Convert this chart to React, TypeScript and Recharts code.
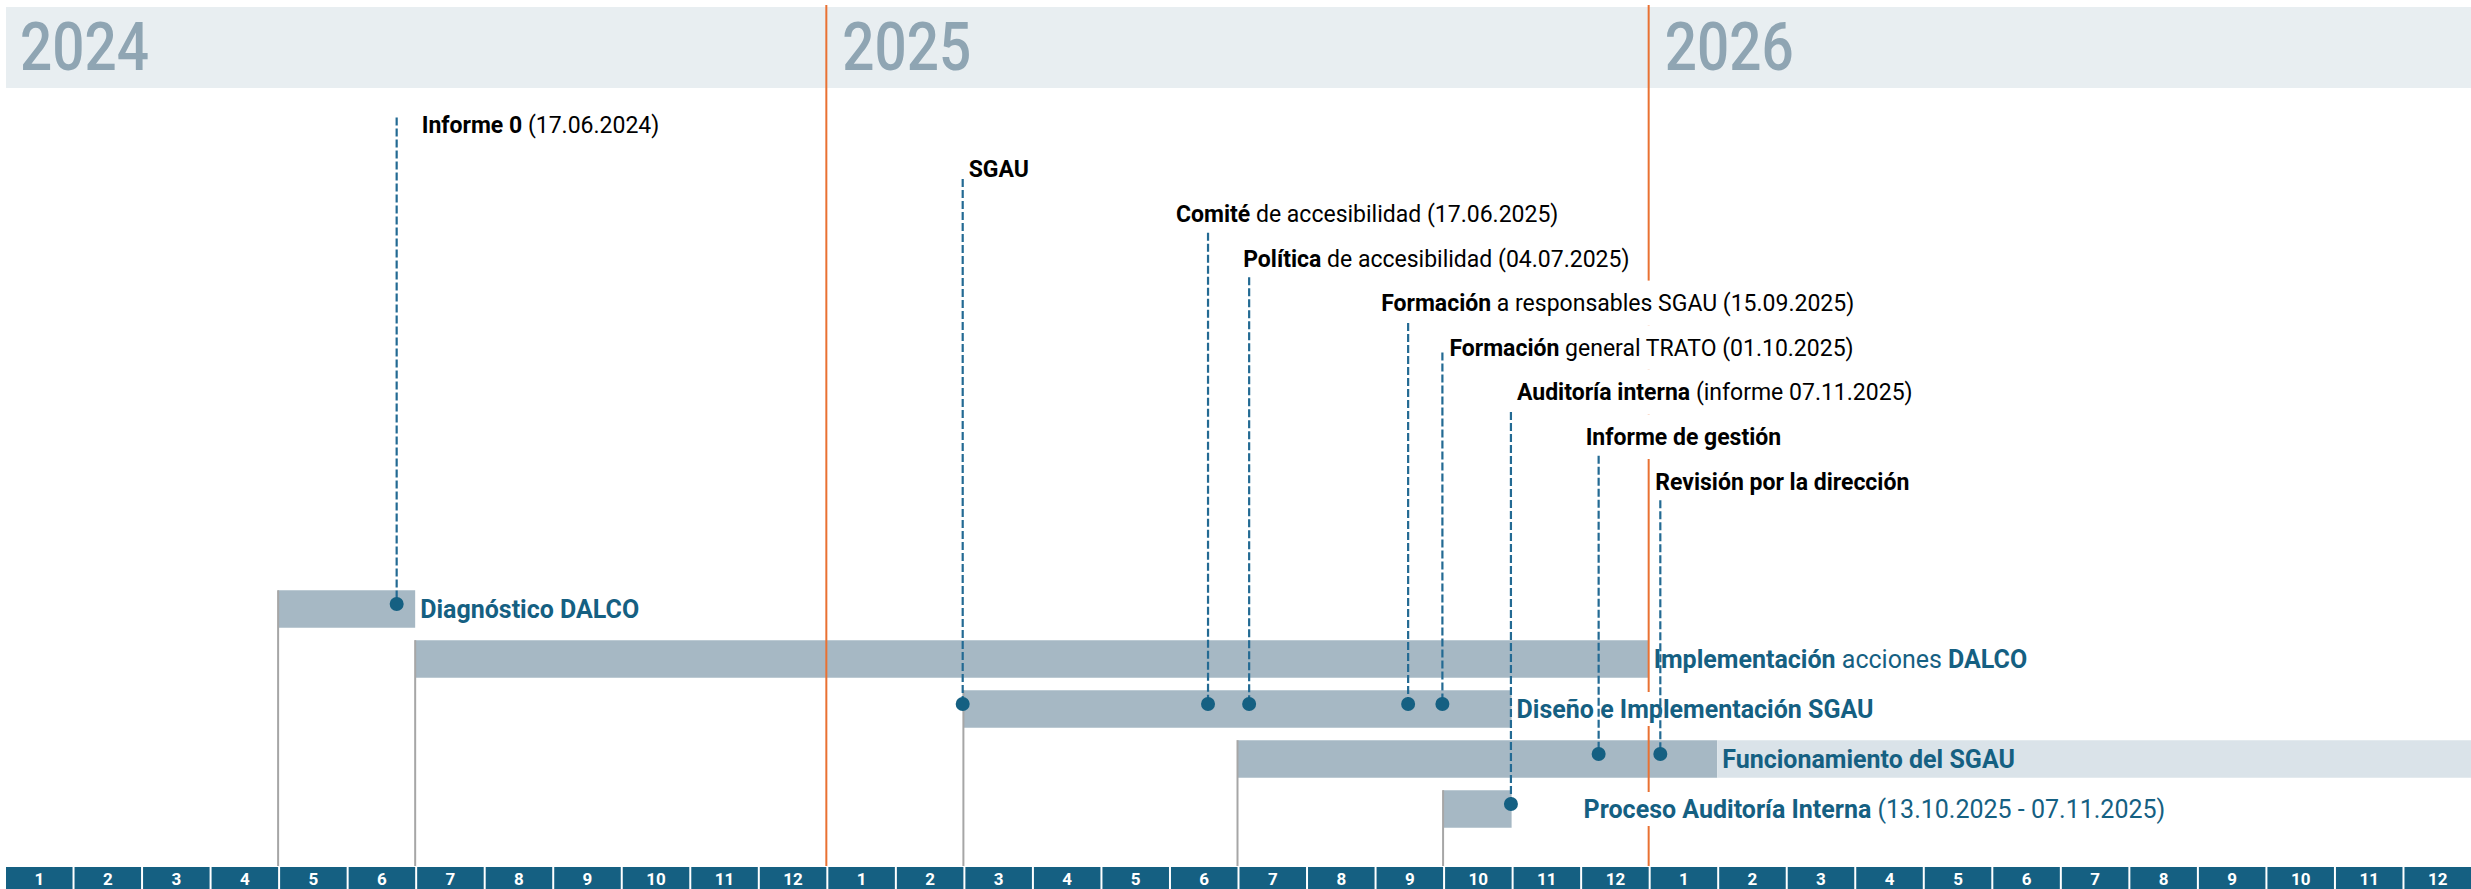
import React from "react";
import {
  ComposedChart,
  XAxis,
  YAxis,
  ReferenceArea,
  ReferenceLine,
  ReferenceDot,
  Scatter,
} from "recharts";

type Seg = [string, boolean]; // [text, bold]

// --- data ---
const YEARS = [2024, 2025, 2026];
const MONTHS = ["1", "2", "3", "4", "5", "6", "7", "8", "9", "10", "11", "12"];

// phases, in months counted from Jan 2024 (0 = start of Jan 2024)
const PHASE_LABELS: Seg[][] = [
  [["Diagnóstico DALCO", true]],
  [
    ["Implementación", true],
    [" acciones ", false],
    ["DALCO", true],
  ],
  [["Diseño e Implementación SGAU", true]],
  [["Funcionamiento del SGAU", true]],
  [
    ["Proceso Auditoría Interna", true],
    [" (13.10.2025 - 07.11.2025)", false],
  ],
];
const PHASE_START = [4, 6, 14, 18, 21];
const PHASE_END = [6, 24, 22, 25, 22];
const PHASE_PLANNED_END: (number | null)[] = [null, null, null, 36, null];

const MILESTONE_LABELS: Seg[][] = [
  [
    ["Informe 0", true],
    [" (17.06.2024)", false],
  ],
  [["SGAU", true]],
  [
    ["Comité", true],
    [" de accesibilidad (17.06.2025)", false],
  ],
  [
    ["Política", true],
    [" de accesibilidad (04.07.2025)", false],
  ],
  [
    ["Formación", true],
    [" a responsables SGAU (15.09.2025)", false],
  ],
  [
    ["Formación", true],
    [" general TRATO (01.10.2025)", false],
  ],
  [
    ["Auditoría interna", true],
    [" (informe 07.11.2025)", false],
  ],
  [["Informe de gestión", true]],
  [["Revisión por la dirección", true]],
];
const MILESTONE_AT = [5.73, 13.99, 17.57, 18.17, 20.49, 20.99, 21.99, 23.27, 24.17];
const MILESTONE_PHASE = [0, 2, 2, 2, 2, 2, 4, 3, 3];

// --- layout ---
const W = 2471;
const H = 889;
const LEFT = 4;
const PLOT_TOP = 90;
const PLOT_BOTTOM = 866;
const Y_MAX = PLOT_BOTTOM - PLOT_TOP;
const MONTH_W = (W - LEFT) / 36;
const BAR_H = 37.7;
const FONT = "Roboto, 'Liberation Sans', sans-serif";
const MILESTONE_SIZE = 23;
const PHASE_SIZE = 25;

const MILESTONE_DX = [25, 6, -32, -6, -27, 7, 6, -13, -5];
const LINE_DY = [-7, 10, 19, 19, 20, 5, 20, 19, 19];
const PHASE_LABEL_DX = [5, 5, 5, 5, 72];
const PHASE_LABEL_BOX = [34, 34, 34, 0, 34];

const COLORS = {
  band: "#e8eef1",
  year: "#8fa5b3",
  orange: "#e97132",
  bar: "#a6b8c4",
  barLight: "#dae3e9",
  teal: "#156082",
  dash: "#236a93",
  gray: "#a6a6a6",
};

const rowY = (i: number) => 609 + 50 * i - PLOT_TOP;
const labelY = (l: number) => 124.5 + 44.6 * l - PLOT_TOP;

let ctx: CanvasRenderingContext2D | null = null;
function measure(segs: Seg[], size: number) {
  if (!ctx) ctx = document.createElement("canvas").getContext("2d");
  let w = 0;
  for (const [t, b] of segs) {
    ctx!.font = `${b ? 700 : 400} ${size}px Roboto`;
    w += ctx!.measureText(t).width;
  }
  return w;
}

function RichLabel({
  x,
  y,
  segs,
  color,
  boxH,
  size,
}: {
  x: number;
  y: number;
  segs: Seg[];
  color: string;
  boxH: number;
  size: number;
}) {
  const w = measure(segs, size);
  return (
    <g>
      {boxH > 0 && (
        <rect x={x - 3} y={y - boxH / 2} width={w + 6} height={boxH} fill="#fff" />
      )}
      <text
        x={x}
        y={y + size * 0.36}
        fontSize={size}
        fontFamily={FONT}
        fill={color}
        style={{ whiteSpace: "pre" }}
      >
        {segs.map(([t, b], i) => (
          <tspan key={i} fontWeight={b ? 700 : 400}>
            {t}
          </tspan>
        ))}
      </text>
    </g>
  );
}

function YearTick(props: any) {
  const { x, index } = props;
  const w = MONTH_W * 12;
  return (
    <g>
      <rect
        x={index === 0 ? x + 2 : x}
        y={7}
        width={index === 0 ? w - 2 : w}
        height={81}
        fill={COLORS.band}
      />
      {index > 0 && (
        <line x1={x} x2={x} y1={5} y2={PLOT_TOP} stroke={COLORS.orange} strokeWidth={2} />
      )}
      <text
        x={x + 16}
        y={70}
        fontSize={66}
        fontWeight={500}
        fontFamily={FONT}
        fill={COLORS.year}
        textLength={129}
        lengthAdjust="spacingAndGlyphs"
      >
        {YEARS[index]}
      </text>
    </g>
  );
}

function MonthTick(props: any) {
  const { x, payload } = props;
  const label = MONTHS[Math.floor(payload.value) % 12];
  return (
    <g>
      <rect
        x={x - MONTH_W / 2 + 2}
        y={PLOT_BOTTOM + 1}
        width={MONTH_W - 2}
        height={H - PLOT_BOTTOM - 1}
        fill={COLORS.teal}
      />
      <text
        x={x + 1}
        y={PLOT_BOTTOM + 19}
        textAnchor="middle"
        fontSize={17}
        fontWeight={700}
        fontFamily={FONT}
        fill="#fff"
      >
        {label}
      </text>
    </g>
  );
}

const monthTicks = MONTHS.flatMap((_, m) => YEARS.map((_, y) => y * 12 + m + 0.5)).sort(
  (a, b) => a - b
);
const yearTicks = YEARS.map((_, i) => i * 12);

const dots = MILESTONE_AT.map((at, i) => ({ x: at, y: rowY(MILESTONE_PHASE[i]) - 5 }));

export default function App() {
  return (
    <div style={{ position: "absolute", left: 0, top: 0, width: W, height: H, background: "#fff" }}>
      <ComposedChart
        width={W}
        height={H}
        margin={{ top: 6, right: 0, bottom: 0, left: LEFT }}
      >
        <XAxis
          xAxisId="year"
          orientation="top"
          type="number"
          dataKey="x"
          domain={[0, 36]}
          ticks={yearTicks}
          interval={0}
          height={PLOT_TOP - 6}
          tick={<YearTick />}
          tickLine={false}
          axisLine={false}
          allowDataOverflow
        />
        <XAxis
          type="number"
          dataKey="x"
          domain={[0, 36]}
          ticks={monthTicks}
          interval={0}
          height={H - PLOT_BOTTOM}
          tick={<MonthTick />}
          tickLine={false}
          axisLine={false}
          allowDataOverflow
        />
        <YAxis type="number" dataKey="y" domain={[0, Y_MAX]} reversed hide allowDataOverflow />

        {/* phase bars */}
        {PHASE_START.map((s, i) => (
          <ReferenceArea
            key={`bar${i}`}
            x1={s}
            x2={PHASE_END[i]}
            y1={rowY(i) - BAR_H / 2}
            y2={rowY(i) + BAR_H / 2}
            fill={COLORS.bar}
            fillOpacity={1}
            stroke="none"
          />
        ))}
        {PHASE_PLANNED_END.map((p, i) =>
          p == null ? null : (
            <ReferenceArea
              key={`plan${i}`}
              x1={PHASE_END[i]}
              x2={p}
              y1={rowY(i) - BAR_H / 2}
              y2={rowY(i) + BAR_H / 2}
              fill={COLORS.barLight}
              fillOpacity={1}
              stroke="none"
            />
          )
        )}

        {/* connectors from bar start to month strip */}
        {PHASE_START.map((s, i) => (
          <ReferenceLine
            key={`con${i}`}
            segment={[
              { x: s, y: rowY(i) - BAR_H / 2 },
              { x: s, y: Y_MAX },
            ]}
            stroke={COLORS.gray}
            strokeWidth={2}
          />
        ))}

        {/* year dividers */}
        {yearTicks.slice(1).map((t) => (
          <ReferenceLine key={`yr${t}`} x={t} stroke={COLORS.orange} strokeWidth={2} />
        ))}

        {/* phase labels */}
        {PHASE_LABELS.map((segs, i) => (
          <ReferenceDot
            key={`pl${i}`}
            x={PHASE_END[i]}
            y={rowY(i)}
            r={0}
            shape={(p: any) => (
              <RichLabel
                x={p.cx + PHASE_LABEL_DX[i]}
                y={p.cy}
                segs={segs}
                color={COLORS.teal}
                boxH={PHASE_LABEL_BOX[i]}
                size={PHASE_SIZE}
              />
            )}
          />
        ))}

        {/* milestone labels */}
        {MILESTONE_LABELS.map((segs, i) => (
          <ReferenceDot
            key={`ml${i}`}
            x={MILESTONE_AT[i]}
            y={labelY(i)}
            r={0}
            shape={(p: any) => (
              <RichLabel
                x={p.cx + MILESTONE_DX[i]}
                y={p.cy}
                segs={segs}
                color="#000"
                boxH={44.6}
                size={MILESTONE_SIZE}
              />
            )}
          />
        ))}

        {/* dashed leader lines */}
        {MILESTONE_AT.map((at, i) => (
          <ReferenceLine
            key={`dl${i}`}
            segment={[
              { x: at, y: labelY(i) + LINE_DY[i] },
              { x: at, y: dots[i].y },
            ]}
            stroke={COLORS.dash}
            strokeWidth={2.2}
            strokeDasharray="8 3"
            zIndex={700}
          />
        ))}

        <Scatter
          data={dots}
          isAnimationActive={false}
          zIndex={800}
          shape={(p: any) => <circle cx={p.cx} cy={p.cy} r={7} fill={COLORS.teal} />}
        />
      </ComposedChart>
    </div>
  );
}
